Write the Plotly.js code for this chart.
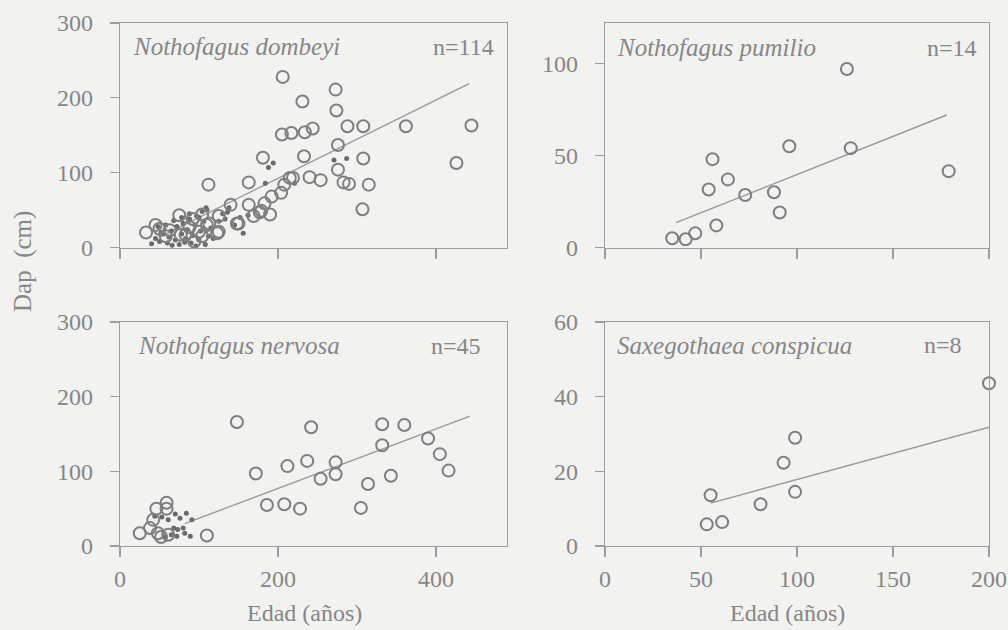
<!DOCTYPE html>
<html><head><meta charset="utf-8">
<script src="https://cdn.plot.ly/plotly-3.0.1.min.js"></script>
<style>html,body{margin:0;padding:0;background:#f2f2f0;}#chart{width:1008px;height:630px;}</style>
</head><body><div id="chart"></div>
<script>
// ---- Nothofagus dombeyi (n=114) ----
const dombeyiOpenAge = [206,273,231,274,288,308,362,445,205,217,234,244,276,181,233,308,426,276,112,163,215,240,254,283,290,315,307,
  208,204,192,183,190,177,163,169,219,179,140,150,125,113,100,83,63,92,104,33,75,148,104,110,123,88,77,58,94,50,125,45];
const dombeyiOpenDap = [228,211,195,183,162,162,162,163,151,153,154,159,137,120,122,119,113,104,84,87,93,94,90,87,85,84,51,
  84,73,68,59,44,47,57,42,93,49,57,32,42,32,21,17,23,38,44,20,43,32,15,30,19,27,17,15,8,25,21,30];
const dombeyiDotAge = [40,45,50,55,60,62,65,70,72,75,78,80,83,85,88,90,92,95,97,100,102,104,106,108,110,112,115,68,58,52,88,100,
  138,156,184,221,133,109,194,188,271,287,162,136,130,145,152,66,82,118,48,96,125,78];
const dombeyiDotDap = [5,12,8,18,6,14,22,10,28,4,18,32,12,24,38,6,16,30,42,10,22,48,35,4,50,15,26,36,30,20,45,40,
  53,19,86,86,38,53,113,107,117,119,43,47,45,30,40,3,7,12,28,2,35,40];
const dombeyiFitAge = [50,442];
const dombeyiFitDap = [14,219];

// ---- Nothofagus pumilio (n=14) ----
const pumilioAge = [126,96,128,56,64,54,73,88,91,58,47,42,35,179];
const pumilioDap = [97,55,54,48,37,31.5,28.5,30,19,12,7.7,4.5,5,41.5];
const pumilioFitAge = [37,178];
const pumilioFitDap = [13.5,72];

// ---- Nothofagus nervosa (n=45) ----
const nervosaOpenAge = [148,242,332,360,332,390,405,416,172,212,237,273,273,254,343,314,186,208,228,305,110,
  25,38,46,59,59,48,61,42,52];
const nervosaOpenDap = [166,159,163,162,135,144,123,101,97,107,114,112,96,90,94,83,55,56,50,51,14,
  17,24,50,58,50,17,15,35,12];
const nervosaDotAge = [53,61,70,76,84,91,68,73,80,65,72,82,89,57,44];
const nervosaDotDap = [39,35,43,37,44,35,24,22,24,15,13,17,13,12,40];
const nervosaFitAge = [82,443];
const nervosaFitDap = [30,174];

// ---- Saxegothaea conspicua (n=8) ----
const saxeAge = [99,93,99,55,81,61,53,200];
const saxeDap = [29,22.3,14.5,13.6,11.2,6.4,5.8,43.6];
const saxeFitAge = [55,200];
const saxeFitDap = [11.5,31.8];

// ---- tick values ----
const leftXTicks = [0,200,400];
const rightXTicks = [0,50,100,150,200];
const tallYTicks = [0,100,200,300];
const pumilioYTicks = [0,50,100];
const saxeYTicks = [0,20,40,60];

const ink = '#868686';
const lineCol = '#9c9c9c';
const serif = 'Liberation Serif, Times New Roman, serif';
const openStyle = {symbol:'circle-open', size:12, color:'#7e7e7e', line:{width:2, color:'#7e7e7e'}};
const dotStyle = {symbol:'circle', size:5, color:'#6a6a6a'};
const fitStyle = {color:'#9a9a9a', width:1.4};

function open(x,y,xa,ya){return {type:'scatter',mode:'markers',x:x,y:y,xaxis:xa,yaxis:ya,marker:openStyle,cliponaxis:false,hoverinfo:'skip'};}
function dots(x,y,xa,ya){return {type:'scatter',mode:'markers',x:x,y:y,xaxis:xa,yaxis:ya,marker:dotStyle,cliponaxis:false,hoverinfo:'skip'};}
function fit(x,y,xa,ya){return {type:'scatter',mode:'lines',x:x,y:y,xaxis:xa,yaxis:ya,line:fitStyle,hoverinfo:'skip'};}

const data = [
  fit(dombeyiFitAge,dombeyiFitDap,'x','y'),
  dots(dombeyiDotAge,dombeyiDotDap,'x','y'),
  open(dombeyiOpenAge,dombeyiOpenDap,'x','y'),
  fit(pumilioFitAge,pumilioFitDap,'x2','y2'),
  open(pumilioAge,pumilioDap,'x2','y2'),
  fit(nervosaFitAge,nervosaFitDap,'x3','y3'),
  dots(nervosaDotAge,nervosaDotDap,'x3','y3'),
  open(nervosaOpenAge,nervosaOpenDap,'x3','y3'),
  fit(saxeFitAge,saxeFitDap,'x4','y4'),
  open(saxeAge,saxeDap,'x4','y4')
];

const tickFont = {family:serif, size:24, color:ink};
function xax(dom, rng, ticks, anchor, labels){
  return {domain:dom, range:rng, anchor:anchor, tickvals:ticks, ticktext:ticks.map(String), showticklabels:labels,
    showline:true, mirror:true, linecolor:lineCol, linewidth:1.3, ticks:'outside', ticklen:10, tickcolor:lineCol, tickwidth:1.2,
    showgrid:false, zeroline:false, tickfont:tickFont, ticklabelstandoff:1, fixedrange:true};
}
function yax(dom, rng, ticks, anchor){
  return {domain:dom, range:rng, anchor:anchor, tickvals:ticks, ticktext:ticks.map(String),
    showline:true, mirror:true, linecolor:lineCol, linewidth:1.3, ticks:'outside', ticklen:9, tickcolor:lineCol, tickwidth:1.2,
    showgrid:false, zeroline:false, tickfont:tickFont, ticklabelstandoff:12, fixedrange:true};
}
const L = [120/1008, 507/1008], R = [605/1008, 989/1008];
const T = [1-247.5/630, 1-23/630], B = [1-546/630, 1-322/630];

function ann(text, px, py, xanchor, size, extra){
  return Object.assign({text:text, xref:'paper', yref:'paper', x:px/1008, y:1-py/630, xanchor:xanchor, yanchor:'middle',
    showarrow:false, font:{family:serif, size:size, color:ink}}, extra||{});
}

const layout = {
  width:1008, height:630, margin:{l:0,r:0,t:0,b:0},
  paper_bgcolor:'#f2f2f0', plot_bgcolor:'#f2f2f0', showlegend:false,
  xaxis: xax(L,[0,490],leftXTicks,'y',false),
  yaxis: yax(T,[0,300],tallYTicks,'x'),
  xaxis2: xax(R,[0,200],rightXTicks,'y2',false),
  yaxis2: yax(T,[0,122],pumilioYTicks,'x2'),
  xaxis3: xax(L,[0,490],leftXTicks,'y3',true),
  yaxis3: yax(B,[0,300],tallYTicks,'x3'),
  xaxis4: xax(R,[0,200],rightXTicks,'y4',true),
  yaxis4: yax(B,[0,60],saxeYTicks,'x4'),
  annotations: [
    ann('<i>Nothofagus dombeyi</i>',131,47,'left',25),
    ann('n=114',496,47,'right',24),
    ann('<i>Nothofagus pumilio</i>',615,48,'left',25),
    ann('n=14',979,48,'right',24),
    ann('<i>Nothofagus nervosa</i>',136,345,'left',25),
    ann('n=45',483,346,'right',24),
    ann('<i>Saxegothaea conspicua</i>',615,345,'left',25),
    ann('n=8',964,345,'right',24),
    ann('Dap  (cm)',23,262,'center',25,{textangle:-90}),
    ann('Edad (años)',304,613,'center',24),
    ann('Edad (años)',787,613,'center',24)
  ]
};
Plotly.newPlot('chart', data, layout, {staticPlot:true, displayModeBar:false});
</script></body></html>
